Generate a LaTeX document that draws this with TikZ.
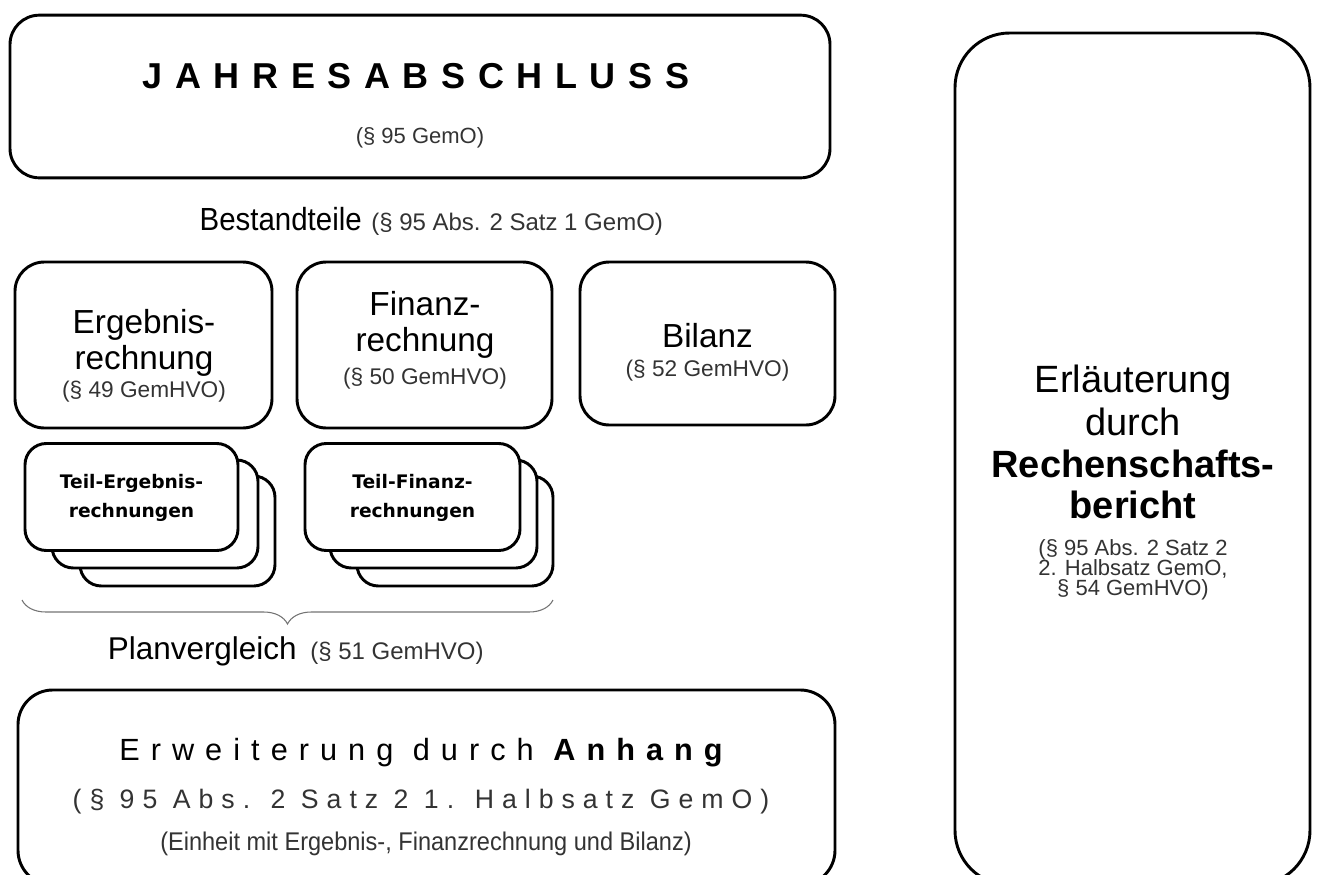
\documentclass[tikz,border=0pt]{standalone}
\usepackage{fontspec}
\setmainfont{Liberation Sans}
\newfontfamily\jfont[LetterSpace=35]{Liberation Sans}
\newfontfamily\efont[LetterSpace=36]{Liberation Sans}
\newfontfamily\pfont[LetterSpace=30]{Liberation Sans}
\newfontfamily\nfont[FakeStretch=0.92]{Liberation Sans}
\newfontfamily\tfont{DejaVu Sans}
\usetikzlibrary{decorations.pathreplacing}
\begin{document}
\begin{tikzpicture}[x=0.75pt,y=-0.75pt,
  rbox/.style={draw, line width=2.2pt, fill=white, inner sep=0pt},
  lbl/.style={anchor=base, inner sep=0pt, align=center, text=black},
  ref/.style={lbl, text=black!80}]
\useasboundingbox (0,0) rectangle (1322,875);
\clip (0,0) rectangle (1322,875);

% top box
\node[rbox, rounded corners=22pt, minimum width=615pt, minimum height=122pt] (jab) at (420,96.5) {};
\node[lbl] (jabt) at (416,88) {\jfont\bfseries\fontsize{27}{30}\selectfont JAHRESABSCHLUSS};
\node[ref] (jabr) at (420,143) {\fontsize{16.5}{19}\selectfont (§ 95 GemO)};

% Bestandteile
\node[lbl, anchor=base east] (best) at (362,230) {\nfont\fontsize{24}{28}\selectfont Bestandteile};
\node[ref, anchor=base west] (bestr) at (371,230) {\fontsize{18}{21}\selectfont (§ 95 Abs. 2 Satz 1 GemO)};

% three boxes
\node[rbox, rounded corners=22pt, minimum width=192.75pt, minimum height=124.5pt] (erg) at (143.5,345) {};
\node[rbox, rounded corners=22pt, minimum width=191.25pt, minimum height=124.5pt] (fin) at (424.5,345) {};
\node[rbox, rounded corners=22pt, minimum width=191.25pt, minimum height=122.25pt] (bil) at (707.5,343.5) {};

\node[lbl] (erg1) at (144,333) {\fontsize{25}{28}\selectfont Ergebnis-};
\node[lbl] (erg2) at (144,369) {\fontsize{25}{28}\selectfont rechnung};
\node[ref] (erg3) at (144,397) {\fontsize{17}{20}\selectfont (§ 49 GemHVO)};

\node[lbl] (fin1) at (425,315) {\fontsize{25}{28}\selectfont Finanz-};
\node[lbl] (fin2) at (425,351) {\fontsize{25}{28}\selectfont rechnung};
\node[ref] (fin3) at (425,384) {\fontsize{17}{20}\selectfont (§ 50 GemHVO)};

\node[lbl] (bil1) at (707.5,347) {\fontsize{25}{28}\selectfont Bilanz};
\node[ref] (bil2) at (707.5,376) {\fontsize{17}{20}\selectfont (§ 52 GemHVO)};

% Teil-Ergebnisrechnungen stack
\node[rbox, rounded corners=16pt, minimum width=146.25pt, minimum height=82.5pt] (te3) at (177.5,531) {};
\node[rbox, rounded corners=16pt, minimum width=154.5pt, minimum height=81pt] (te2) at (155,514) {};
\node[rbox, rounded corners=16pt, minimum width=159.75pt, minimum height=80.25pt] (te1) at (131.5,497) {};
\node[lbl] (te1a) at (131.5,488) {\tfont\bfseries\fontsize{14}{16}\selectfont Teil-Ergebnis-};
\node[lbl] (te1b) at (131.5,517) {\tfont\bfseries\fontsize{14}{16}\selectfont rechnungen};

% Teil-Finanzrechnungen stack
\node[rbox, rounded corners=16pt, minimum width=147pt, minimum height=82.5pt] (tf3) at (455,531) {};
\node[rbox, rounded corners=16pt, minimum width=155.25pt, minimum height=81pt] (tf2) at (433.5,514) {};
\node[rbox, rounded corners=16pt, minimum width=161.25pt, minimum height=80.25pt] (tf1) at (412.5,497) {};
\node[lbl] (tf1a) at (412.5,488) {\tfont\bfseries\fontsize{14}{16}\selectfont Teil-Finanz-};
\node[lbl] (tf1b) at (412.5,517) {\tfont\bfseries\fontsize{14}{16}\selectfont rechnungen};

% brace
\coordinate (bl) at (22,600);
\coordinate (br) at (553,600);
\draw[decorate, decoration={brace, mirror, amplitude=18pt}, black!55, line width=0.8pt] (bl) -- (br);

\node[lbl, anchor=base east] (plan) at (297,659) {\fontsize{23.6}{28}\selectfont Planvergleich};
\node[ref, anchor=base west] (planr) at (310,659) {\fontsize{18}{21}\selectfont (§ 51 GemHVO)};

% bottom box
\node[rbox, rounded corners=26pt, minimum width=612.75pt, minimum height=146.25pt] (anh) at (426.5,787.5) {};
\node[lbl] (anh1) at (421,760) {\efont\fontsize{23}{26}\selectfont Erweiterung durch \bfseries Anhang};
\node[ref] (anh2) at (421,808) {\pfont\fontsize{20}{24}\selectfont (§ 95 Abs. 2 Satz 2 1. Halbsatz GemO)};
\node[ref] (anh3) at (426,850) {\nfont\fontsize{19.2}{22}\selectfont (Einheit mit Ergebnis-, Finanzrechnung und Bilanz)};

% right box
\node[rbox, rounded corners=41pt, minimum width=266.25pt, minimum height=639pt] (rb) at (1132.5,459) {};
\node[lbl] (rb1) at (1133,392) {\fontsize{28.5}{32}\selectfont Erläuterung};
\node[lbl] (rb2) at (1133,435) {\fontsize{28.5}{32}\selectfont durch};
\node[lbl] (rb3) at (1133,477) {\bfseries\fontsize{28.5}{32}\selectfont Rechenschafts-};
\node[lbl] (rb4) at (1133,518) {\bfseries\fontsize{28.5}{32}\selectfont bericht};
\node[ref] (rb5) at (1133,555) {\fontsize{16.5}{19}\selectfont (§ 95 Abs. 2 Satz 2};
\node[ref] (rb6) at (1133,575) {\fontsize{16.5}{19}\selectfont 2. Halbsatz GemO,};
\node[ref] (rb7) at (1133,595) {\fontsize{16.5}{19}\selectfont § 54 GemHVO)};
\end{tikzpicture}
\end{document}
